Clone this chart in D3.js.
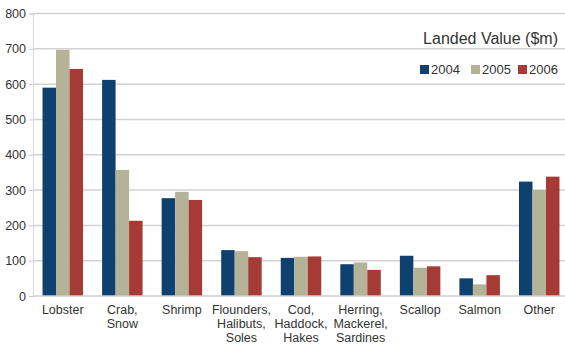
<!DOCTYPE html>
<html><head><meta charset="utf-8">
<script src="https://cdn.jsdelivr.net/npm/d3@7"></script>
<style>html,body{margin:0;padding:0;background:#fff;}svg{display:block;}</style>
</head><body>
<script>
const categories = [["Lobster"],["Crab,","Snow"],["Shrimp"],["Flounders,","Halibuts,","Soles"],["Cod,","Haddock,","Hakes"],["Herring,","Mackerel,","Sardines"],["Scallop"],["Salmon"],["Other"]];
const years = ["2004","2005","2006"];
const v2004 = [590, 612, 277, 130, 108, 90, 114, 50, 324];
const v2005 = [697, 357, 295, 127, 111, 95, 80, 33, 300];
const v2006 = [643, 213, 272, 110, 112, 74, 84, 59, 338];
const yTicks = [0,100,200,300,400,500,600,700,800];
const colors = ["#0f4170", "#b4b398", "#a63b36"];
const legendTitle = "Landed Value ($m)";

const W = 565, H = 349;
const svg = d3.select("body").append("svg").attr("width", W).attr("height", H);
const font = "'Liberation Sans', Arial, sans-serif";
const series = [v2004, v2005, v2006];

const x0 = d3.scaleBand().domain(d3.range(categories.length)).range([33, 569]).paddingInner(0.32).paddingOuter(0.16);
const x1 = d3.scaleBand().domain(years).range([0, x0.bandwidth()]);
const y = d3.scaleLinear().domain([0, 800]).range([296, 13.5]);

// gridlines
svg.append("g").selectAll("line").data(yTicks.filter(t => t > 0)).join("line")
  .attr("x1", 33).attr("x2", W).attr("y1", d => y(d)).attr("y2", d => y(d))
  .attr("stroke", "#d2d2d2").attr("stroke-width", 1.5);

// y axis
const ya = svg.append("g").attr("transform", "translate(33,0)")
  .call(d3.axisLeft(y).tickValues(yTicks).tickSize(4).tickPadding(3));
ya.select(".domain").attr("stroke", "#d8d8d8");
ya.selectAll(".tick line").attr("stroke", "#c8c8c8");
ya.selectAll("text").attr("font-family", font).attr("font-size", 12.5).attr("fill", "#333");

// bars
const g = svg.append("g");
categories.forEach((c, i) => {
  years.forEach((yr, j) => {
    g.append("rect")
      .attr("x", x0(i) + x1(yr))
      .attr("y", y(series[j][i]))
      .attr("width", x1.bandwidth())
      .attr("height", y(0) - y(series[j][i]))
      .attr("fill", colors[j]);
  });
});

// x baseline
svg.append("line").attr("x1", 33).attr("x2", W).attr("y1", y(0)).attr("y2", y(0))
  .attr("stroke", "#cfcfcf").attr("stroke-width", 1.5);

// category labels
categories.forEach((lines, i) => {
  const t = svg.append("text").attr("text-anchor", "middle")
    .attr("font-family", font).attr("font-size", 12.5).attr("fill", "#333");
  lines.forEach((l, k) => {
    t.append("tspan").attr("x", x0(i) + x0.bandwidth() / 2).attr("y", 314 + k * 14).text(l);
  });
});

// legend
svg.append("text").attr("x", 558).attr("y", 43.5).attr("text-anchor", "end")
  .attr("font-family", font).attr("font-size", 16).attr("fill", "#333").text(legendTitle);
const legX = [420, 471, 518];
years.forEach((yr, j) => {
  svg.append("rect").attr("x", legX[j]).attr("y", 65).attr("width", 9).attr("height", 9).attr("fill", colors[j]);
  svg.append("text").attr("x", legX[j] + 11).attr("y", 73.5)
    .attr("font-family", font).attr("font-size", 13).attr("fill", "#333").text(yr);
});
</script>
</body></html>
